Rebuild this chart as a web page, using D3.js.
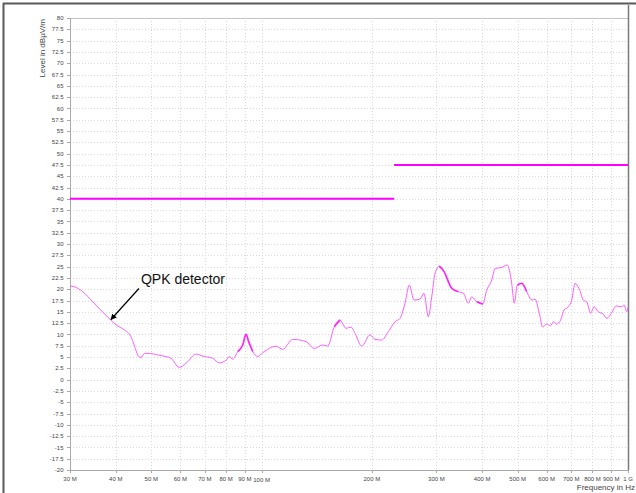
<!DOCTYPE html>
<html>
<head>
<meta charset="utf-8">
<script src="https://cdn.jsdelivr.net/npm/d3@7"></script>
<style>
  html, body { margin: 0; padding: 0; background: #fff; }
  svg { display: block; font-family: "Liberation Sans", Arial, sans-serif; }
  .tick-label { font-size: 6px; fill: #444; }
  .axis-title { font-size: 8px; fill: #444; }
  .note { font-size: 14px; fill: #111; }
</style>
</head>
<body>
<div id="chart"></div>
<script>
/* measured QPK trace, frequency in MHz / level in dBuV/m */
var freqMHz = [30, 30.8, 32.5, 34.6, 36.8, 39.2, 40.1, 42.2, 44.0, 44.9, 46.2, 46.9, 47.9, 49.4,
  52.1, 54.8, 56.6, 59.6, 62.2, 66.2, 69.1, 73.6, 76.7, 80.0, 81.6, 83.4, 86.1, 88.8, 90.7,
  92.2, 94.6, 97.6, 100.7, 103.9, 109.5, 114.2, 121.6, 132.2, 139.3, 146.8, 151.5, 157.9,
  163.7, 167.1, 170.0, 175.4, 179.9, 187.6, 197.7, 204.0, 212.7, 221.7, 231.3, 238.7, 246.3,
  253.0, 260.6, 270.6, 277.5, 285.1, 291.3, 297.4, 305.5, 314.7, 330.3, 344.3, 355.3, 366.6,
  374.5, 386.5, 401.3, 411.5, 424.7, 433.6, 452.2, 468.4, 481.5, 489.4, 498.8, 512.7, 529.1,
  546.0, 557.4, 572.7, 585.1, 600.0, 615.2, 625.4, 638.9, 655.1, 668.9, 687.2, 702.1, 716.8,
  736.4, 755.2, 771.5, 791.1, 807.7, 829.8, 856.3, 874.8, 902.7, 927.5, 961.3, 975.3, 992, 1000];

var levelDb = [20.7, 20.55, 19.45, 17.2, 15.0, 12.8, 12.1, 11.0, 9.5, 7.65, 5.1, 4.9, 5.8, 5.8,
  5.45, 5.1, 4.7, 2.7, 3.6, 5.65, 5.2, 4.7, 3.7, 4.3, 5.1, 4.5, 6.2, 7.65, 10.0,
  8.4, 6.2, 5.1, 5.95, 6.7, 7.4, 6.7, 8.9, 8.4, 6.9, 7.65, 7.4, 11.7,
  13.2, 12.1, 11.35, 11.6, 10.2, 7.4, 9.9, 8.9, 8.75, 10.6, 12.8, 13.55, 16.9,
  20.9, 17.6, 17.8, 19.1, 13.9, 18.3, 23.5, 25.1, 23.9, 20.2, 19.45, 19.1, 16.9,
  18.3, 17.2, 16.7, 19.8, 22.0, 24.6, 24.8, 25.35, 21.3, 16.9, 20.9, 21.3, 19.45,
  17.6, 17.8, 14.7, 11.6, 12.3, 11.9, 12.8, 12.3, 13.2, 15.4, 16.1, 17.6, 21.3,
  20.0, 17.6, 17.2, 14.7, 16.1, 15.0, 14.5, 13.55, 14.8, 16.3, 16.1, 16.5, 15.0, 16.0];

/* frequency ranges where the trace is noisy (drawn thicker) */
var noisyFrom = [86, 155, 305, 380, 498];
var noisyTo   = [95, 167, 355, 410, 532];

/* limit line segments */
var limitStart = [30, 230];
var limitEnd   = [230, 1000];
var limitLevel = [40, 47.5];

/* axis ticks */
var xTicks = [30, 40, 50, 60, 70, 80, 90, 100, 200, 300, 400, 500, 600, 700, 800, 900, 1000];
var xTickLabels = ['30 M', '40 M', '50 M', '60 M', '70 M', '80 M', '90 M', '100 M', '200 M',
  '300 M', '400 M', '500 M', '600 M', '700 M', '800 M', '900 M', '1 G'];
var yTicks = [-20, -17.5, -15, -12.5, -10, -7.5, -5, -2.5, 0, 2.5, 5, 7.5, 10, 12.5, 15, 17.5,
  20, 22.5, 25, 27.5, 30, 32.5, 35, 37.5, 40, 42.5, 45, 47.5, 50, 52.5, 55, 57.5, 60, 62.5,
  65, 67.5, 70, 72.5, 75, 77.5, 80];

/* annotation: label and the point the arrow points to */
var noteText = 'QPK detector';
var notePoint = [38.8, 13.3];

var W = 636, H = 493;
var plot = { left: 70, top: 18, right: 628, bottom: 470 };

var svg = d3.select('#chart').append('svg')
  .attr('width', W).attr('height', H);

var x = d3.scaleLog().domain([30, 1000]).range([plot.left, plot.right]);
var y = d3.scaleLinear().domain([-20, 80]).range([plot.bottom, plot.top]);

/* outer frame (top and left edges only visible) */
svg.append('line').attr('x1', 3).attr('x2', W).attr('y1', 3.5).attr('y2', 3.5)
  .attr('stroke', '#5a5a5a').attr('stroke-width', 2);
svg.append('line').attr('x1', 3.5).attr('x2', 3.5).attr('y1', 3).attr('y2', H)
  .attr('stroke', '#5a5a5a').attr('stroke-width', 2);

/* grid */
svg.append('g').selectAll('line')
  .data(yTicks.filter(function (d) { return d > -20 && d < 80; }))
  .join('line')
  .attr('x1', plot.left).attr('x2', plot.right)
  .attr('y1', function (d) { return Math.round(y(d)) + 0.5; })
  .attr('y2', function (d) { return Math.round(y(d)) + 0.5; })
  .attr('stroke', '#d8d8d8').attr('stroke-dasharray', '1,2');

svg.append('g').selectAll('line')
  .data(xTicks.slice(1, -1))
  .join('line')
  .attr('x1', function (d) { return Math.round(x(d)) + 0.5; })
  .attr('x2', function (d) { return Math.round(x(d)) + 0.5; })
  .attr('y1', plot.top).attr('y2', plot.bottom)
  .attr('stroke', '#d8d8d8').attr('stroke-dasharray', '1,2');

/* plot border */
svg.append('line').attr('x1', plot.left).attr('x2', plot.right)
  .attr('y1', plot.top + 0.5).attr('y2', plot.top + 0.5).attr('stroke', '#c4c4c4');
svg.append('line').attr('x1', plot.left + 0.5).attr('x2', plot.left + 0.5)
  .attr('y1', plot.top).attr('y2', plot.bottom).attr('stroke', '#a8a8a8');
svg.append('line').attr('x1', plot.left).attr('x2', plot.right)
  .attr('y1', plot.bottom + 0.5).attr('y2', plot.bottom + 0.5).attr('stroke', '#a8a8a8');
svg.append('line').attr('x1', plot.right + 0.5).attr('x2', plot.right + 0.5)
  .attr('y1', 5).attr('y2', plot.bottom).attr('stroke', '#7a7a7a').attr('stroke-width', 1.5);

/* y axis ticks and labels */
var yAx = svg.append('g');
yAx.selectAll('line').data(yTicks).join('line')
  .attr('x1', plot.left - 3).attr('x2', plot.left)
  .attr('y1', function (d) { return Math.round(y(d)) + 0.5; })
  .attr('y2', function (d) { return Math.round(y(d)) + 0.5; })
  .attr('stroke', '#a8a8a8');
yAx.selectAll('text').data(yTicks).join('text')
  .attr('class', 'tick-label')
  .attr('x', plot.left - 6.5)
  .attr('y', function (d) { return y(d); })
  .attr('dy', '0.35em')
  .attr('text-anchor', 'end')
  .text(function (d) { return d; });

/* x axis ticks and labels */
var xAx = svg.append('g');
xAx.selectAll('line').data(xTicks).join('line')
  .attr('x1', function (d) { return Math.round(x(d)) + 0.5; })
  .attr('x2', function (d) { return Math.round(x(d)) + 0.5; })
  .attr('y1', plot.bottom).attr('y2', plot.bottom + 3)
  .attr('stroke', '#a8a8a8');
xAx.selectAll('text').data(xTicks).join('text')
  .attr('class', 'tick-label')
  .attr('x', function (d) { return x(d); })
  .attr('y', function (d) { return d === 100 ? plot.bottom + 12 : plot.bottom + 11; })
  .attr('text-anchor', 'middle')
  .text(function (d, i) { return xTickLabels[i]; });

/* axis titles */
svg.append('text').attr('class', 'axis-title')
  .attr('x', 635).attr('y', 490)
  .attr('text-anchor', 'end')
  .text('Frequency in Hz');
svg.append('text').attr('class', 'axis-title')
  .attr('transform', 'translate(45,19) rotate(-90)')
  .attr('text-anchor', 'end')
  .text('Level in dBµV/m');

/* limit lines */
svg.append('g').selectAll('line').data(limitLevel).join('line')
  .attr('x1', function (d, i) { return x(limitStart[i]); })
  .attr('x2', function (d, i) { return x(limitEnd[i]); })
  .attr('y1', function (d) { return y(d); })
  .attr('y2', function (d) { return y(d); })
  .attr('stroke', '#ff00ff').attr('stroke-width', 2);

/* trace */
var trace = freqMHz.map(function (f, i) { return { f: f, v: levelDb[i] }; });
var line = d3.line()
  .x(function (d) { return x(d.f); })
  .y(function (d) { return y(d.v); })
  .curve(d3.curveMonotoneX);

svg.append('path')
  .datum(trace)
  .attr('d', line)
  .attr('fill', 'none')
  .attr('stroke', '#ff5cff')
  .attr('stroke-width', 1);

svg.append('g').selectAll('path')
  .data(noisyFrom)
  .join('path')
  .attr('d', function (d, i) {
    return line(trace.filter(function (p) { return p.f >= d && p.f <= noisyTo[i]; }));
  })
  .attr('fill', 'none')
  .attr('stroke', '#ff22ff')
  .attr('stroke-width', 1.6);

/* annotation */
svg.append('defs').append('marker')
  .attr('id', 'arrow')
  .attr('viewBox', '0 0 10 10')
  .attr('refX', 9).attr('refY', 5)
  .attr('markerWidth', 5).attr('markerHeight', 5)
  .attr('orient', 'auto')
  .append('path').attr('d', 'M0,0 L10,5 L0,10 Z').attr('fill', '#000');

var tipX = x(notePoint[0]), tipY = y(notePoint[1]);
svg.append('line')
  .attr('x1', tipX + 28).attr('y1', tipY - 31)
  .attr('x2', tipX).attr('y2', tipY)
  .attr('stroke', '#000').attr('stroke-width', 1.2)
  .attr('marker-end', 'url(#arrow)');
svg.append('text').attr('class', 'note')
  .attr('x', tipX + 30).attr('y', tipY - 35.5)
  .text(noteText);
</script>
</body>
</html>
